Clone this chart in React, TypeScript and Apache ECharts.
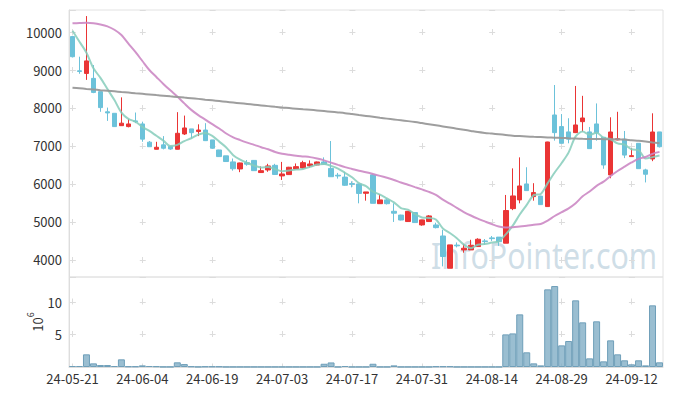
import React, { useEffect, useRef } from "react";
import * as echarts from "echarts";

const dates = [
  "24-05-21","24-05-22","24-05-23","24-05-24","24-05-27","24-05-28","24-05-29","24-05-30","24-05-31","24-06-03",
  "24-06-04","24-06-05","24-06-07","24-06-10","24-06-11","24-06-12","24-06-13","24-06-14","24-06-17","24-06-18",
  "24-06-19","24-06-20","24-06-21","24-06-24","24-06-25","24-06-26","24-06-27","24-06-28","24-07-01","24-07-02",
  "24-07-03","24-07-04","24-07-05","24-07-08","24-07-09","24-07-10","24-07-11","24-07-12","24-07-15","24-07-16",
  "24-07-17","24-07-18","24-07-19","24-07-22","24-07-23","24-07-24","24-07-25","24-07-26","24-07-29","24-07-30",
  "24-07-31","24-08-01","24-08-02","24-08-05","24-08-06","24-08-07","24-08-08","24-08-09","24-08-12","24-08-13",
  "24-08-14","24-08-16","24-08-19","24-08-20","24-08-21","24-08-22","24-08-23","24-08-26","24-08-27","24-08-28",
  "24-08-29","24-08-30","24-09-02","24-09-03","24-09-04","24-09-05","24-09-06","24-09-09","24-09-10","24-09-11",
  "24-09-12","24-09-13","24-09-19","24-09-20","24-09-23",
];

// [open, close, low, high]
const ohlc = [
  [9880, 9350, 9330, 9900], [8980, 8960, 8900, 9350], [8910, 9240, 8740, 10420], [8780, 8410, 8390, 9130],
  [8430, 8010, 7900, 8430], [7900, 7870, 7660, 8010], [7860, 7510, 7500, 7860], [7534, 7600, 7530, 8280],
  [7510, 7580, 7490, 7710], [7660, 7640, 7600, 7880], [7580, 7180, 7110, 7640], [7100, 6980, 6980, 7130],
  [6913, 6966, 6910, 7110], [7030, 6940, 6910, 7260], [6990, 6920, 6900, 6990], [6913, 7334, 6910, 7890],
  [7316, 7474, 7290, 7800], [7450, 7350, 7200, 7450], [7380, 7420, 7260, 7570], [7420, 7140, 7130, 7600],
  [7160, 6940, 6930, 7160], [6895, 6720, 6710, 6900], [6740, 6590, 6580, 6740], [6580, 6400, 6350, 6670],
  [6395, 6553, 6310, 6560], [6560, 6520, 6480, 6630], [6620, 6350, 6350, 6630], [6300, 6350, 6290, 6460],
  [6368, 6474, 6320, 6530], [6490, 6250, 6240, 6530], [6211, 6263, 6105, 6580], [6246, 6440, 6240, 6450],
  [6395, 6456, 6390, 6540], [6421, 6561, 6400, 6610], [6474, 6526, 6430, 6620], [6500, 6579, 6490, 6590],
  [6580, 6520, 6510, 6700], [6410, 6190, 6190, 7130], [6230, 6210, 6140, 6290], [6180, 5965, 5950, 6320],
  [6010, 5990, 5910, 6070], [6000, 5750, 5490, 6000], [5754, 5790, 5560, 5790], [6240, 5490, 5490, 6270],
  [5480, 5580, 5480, 5730], [5580, 5480, 5460, 5620], [5280, 5230, 5000, 5490], [5180, 5050, 5040, 5190],
  [5010, 5280, 5000, 5290], [5246, 4983, 4980, 5250], [4921, 5053, 4900, 5060], [5010, 5158, 5000, 5180],
  [4920, 4850, 4830, 4980], [4630, 4090, 3830, 4790], [3780, 4395, 3780, 4395], [4390, 4370, 4330, 4460],
  [4263, 4307, 4190, 4420], [4263, 4386, 4260, 4530], [4351, 4544, 4340, 4570], [4500, 4482, 4400, 4550],
  [4580, 4560, 4500, 4630], [4600, 4480, 4370, 4600], [4440, 5300, 4440, 5710], [5350, 5684, 5310, 6410],
  [5580, 5947, 5490, 6700], [6000, 5825, 5820, 6440], [5667, 5772, 5560, 6020], [5680, 5456, 5450, 5690],
  [5404, 7105, 5400, 7110], [7816, 7351, 7140, 8605], [7510, 7070, 7070, 7840], [7370, 7180, 7070, 7730],
  [7351, 7553, 7340, 8580], [7640, 7737, 7380, 8320], [7370, 6930, 6930, 7500], [7580, 7350, 7140, 8120],
  [7230, 6500, 6400, 7230], [6237, 7368, 6150, 7755], [7160, 7190, 7150, 7900], [7180, 6760, 6680, 7395],
  [6720, 6745, 6710, 6940], [7070, 6403, 6400, 7070], [6370, 6255, 6040, 6400], [6658, 7368, 6600, 7860],
  [7370, 6980, 6960, 7370],
];

// volume, millions of shares
const volumes = [
  0.15, 0.15, 1.95, 0.56, 0.3, 0.3, 0.15, 1.18, 0.1, 0.1,
  0.25, 0.15, 0.12, 0.03, 0.03, 0.72, 0.45, 0.1, 0.03, 0.08,
  0.08, 0.08, 0.02, 0.02, 0.02, 0.02, 0.02, 0.02, 0.02, 0.02,
  0.02, 0.02, 0.02, 0.02, 0.02, 0.02, 0.5, 0.7, 0.02, 0.15,
  0.02, 0.02, 0.02, 0.5, 0.02, 0.02, 0.25, 0.02, 0.02, 0.02,
  0.02, 0.02, 0.1, 0.1, 0.1, 0.02, 0.02, 0.02, 0.02, 0.02,
  0.02, 0.02, 5.02, 5.17, 8.1, 2.26, 0.56, 0.25, 11.95, 12.46,
  3.33, 4.0, 10.26, 6.87, 1.33, 7.03, 0.87, 4.1, 1.95, 1.03,
  0.41, 1.03, 0.25, 9.49, 0.72,
];

const ma5 = [
  10034, 9745, 9456, 9044, 8794, 8498, 8208, 7880, 7714, 7640,
  7502, 7396, 7269, 7141, 6997, 7028, 7127, 7204, 7300, 7344,
  7265, 7114, 6962, 6758, 6641, 6557, 6483, 6435, 6449, 6389,
  6337, 6355, 6377, 6394, 6449, 6512, 6528, 6475, 6405, 6293,
  6175, 6021, 5941, 5797, 5720, 5618, 5514, 5366, 5324, 5205,
  5119, 5105, 5065, 4827, 4709, 4573, 4402, 4310, 4400, 4418,
  4456, 4490, 4673, 4901, 5194, 5447, 5706, 5737, 6021, 6302,
  6551, 6832, 7252, 7378, 7294, 7350, 7214, 7177, 7068, 7034,
  6913, 6893, 6671, 6706, 6750,
];

const ma20 = [
  10229, 10238, 10245, 10232, 10200, 10150, 10060, 9921, 9694, 9475,
  9237, 9000, 8817, 8634, 8464, 8302, 8122, 7950, 7811, 7694,
  7573, 7461, 7329, 7228, 7155, 7088, 7030, 6967, 6912, 6843,
  6797, 6770, 6744, 6725, 6706, 6668, 6620, 6562, 6502, 6443,
  6395, 6347, 6307, 6261, 6213, 6161, 6105, 6040, 5980, 5917,
  5856, 5792, 5712, 5588, 5482, 5371, 5261, 5170, 5087, 5013,
  4941, 4878, 4853, 4863, 4881, 4899, 4926, 4946, 5037, 5156,
  5257, 5358, 5493, 5675, 5802, 5951, 6061, 6210, 6342, 6456,
  6565, 6661, 6709, 6793, 6845,
];

const ma120 = [
  8535, 8520, 8503, 8487, 8470, 8454, 8438, 8421, 8405, 8388,
  8372, 8356, 8339, 8323, 8306, 8290, 8273, 8257, 8240, 8220,
  8201, 8182, 8163, 8144, 8125, 8106, 8087, 8068, 8049, 8030,
  8012, 7997, 7982, 7967, 7953, 7937, 7919, 7901, 7883, 7864,
  7840, 7816, 7792, 7767, 7742, 7720, 7698, 7676, 7654, 7630,
  7602, 7573, 7544, 7515, 7486, 7456, 7426, 7396, 7366, 7344,
  7326, 7308, 7290, 7272, 7261, 7250, 7240, 7233, 7225, 7218,
  7211, 7203, 7196, 7189, 7184, 7182, 7180, 7179, 7177, 7168,
  7150, 7135, 7115, 7092, 7070,
];

const watermarkText = "InfoPointer.com";
const volumeUnit = "{b|10}{s|6}";

export default function App() {
  const ref = useRef<HTMLDivElement>(null);
  useEffect(() => {
    const chart = echarts.init(ref.current!, null, { renderer: "svg" });
    const font = "'Noto Sans CJK KR', 'Noto Sans', sans-serif";
    const red = "#ea3535";
    const blue = "#6cc2da";
    const gridLine = "#dcdcdc";
    chart.setOption({
      animation: false,
      backgroundColor: "#ffffff",
      textStyle: { fontFamily: font },
      graphic: [
        {
          type: "text",
          x: 431,
          y: 236,
          scaleX: 0.82,
          z: 0,
          silent: true,
          style: {
            text: watermarkText,
            fontSize: 37,
            fontFamily: "'Noto Sans', sans-serif",
            fill: "rgba(175,200,215,0.6)",
            textAlign: "left",
            textVerticalAlign: "top",
          },
        },
        {
          type: "text",
          x: 35,
          y: 322,
          rotation: Math.PI / 2,
          silent: true,
          style: {
            text: volumeUnit,
            align: "center",
            verticalAlign: "middle",
            rich: {
              b: { fontSize: 13, fill: "#333", fontFamily: font, lineHeight: 18, verticalAlign: "bottom" },
              s: { fontSize: 9, fill: "#333", fontFamily: font, lineHeight: 18, verticalAlign: "top" },
            },
          },
        },
      ],
      grid: [
        { left: 69, right: 10, top: 10, height: 267, show: true, borderColor: "#e2e2e2", borderWidth: 1 },
        { left: 69, right: 10, top: 277, height: 90, show: true, borderColor: "#e2e2e2", borderWidth: 1 },
      ],
      xAxis: [
        {
          type: "category",
          gridIndex: 0,
          data: dates,
          boundaryGap: true,
          axisLine: { show: false },
          axisTick: { show: false },
          axisLabel: { show: false, interval: 9 },
          splitLine: {
            show: true,
            interval: 9,
            alignWithLabel: true,
            lineStyle: { color: gridLine, width: 1, type: [6, 32], dashOffset: 19 },
          },
        },
        {
          type: "category",
          gridIndex: 1,
          data: dates,
          boundaryGap: true,
          axisLine: { show: true, lineStyle: { color: "#dddddd" } },
          axisTick: { show: false },
          axisLabel: { interval: 9, color: "#333", fontSize: 13, fontFamily: font, margin: 5 },
          splitLine: {
            show: true,
            interval: 9,
            alignWithLabel: true,
            lineStyle: { color: gridLine, width: 1, type: [6, 26.5], dashOffset: 10.5 },
          },
        },
      ],
      yAxis: [
        {
          type: "value",
          gridIndex: 0,
          min: 3550,
          max: 10580,
          splitNumber: 7,
          axisLine: { show: true, lineStyle: { color: "#dddddd" } },
          axisTick: { show: false },
          axisLabel: {
            color: "#333",
            fontSize: 13,
            fontFamily: font,
            margin: 7,
            showMinLabel: false,
            showMaxLabel: false,
            formatter: (v: number) => String(v),
          },
          splitLine: { show: true, lineStyle: { color: gridLine, width: 1, type: [6, 63.88], dashOffset: 69.39 } },
        },
        {
          type: "value",
          gridIndex: 1,
          min: 0,
          max: 13.85,
          splitNumber: 3,
          axisLine: { show: true, lineStyle: { color: "#dddddd" } },
          axisTick: { show: false },
          axisLabel: {
            color: "#333",
            fontSize: 13,
            fontFamily: font,
            margin: 7,
            showMinLabel: false,
            showMaxLabel: false,
            formatter: (v: number) => String(v),
          },
          splitLine: { show: true, lineStyle: { color: gridLine, width: 1, type: [6, 63.88], dashOffset: 69.39 } },
        },
      ],
      series: [
        {
          type: "candlestick",
          xAxisIndex: 0,
          yAxisIndex: 0,
          data: ohlc,
          barWidth: 5,
          itemStyle: { color: red, color0: blue, borderColor: red, borderColor0: blue, borderWidth: 1 },
          z: 3,
        },
        {
          type: "line",
          xAxisIndex: 0,
          yAxisIndex: 0,
          data: ma5,
          symbol: "none",
          smooth: 0.3,
          lineStyle: { color: "#86ccbb", width: 2, opacity: 0.85 },
          z: 4,
        },
        {
          type: "line",
          xAxisIndex: 0,
          yAxisIndex: 0,
          data: ma20,
          symbol: "none",
          smooth: 0.3,
          lineStyle: { color: "#cc88c4", width: 2, opacity: 0.9 },
          z: 4,
        },
        {
          type: "line",
          xAxisIndex: 0,
          yAxisIndex: 0,
          data: ma120,
          symbol: "none",
          smooth: 0.3,
          lineStyle: { color: "#999999", width: 2, opacity: 0.95 },
          z: 4,
        },
        {
          type: "bar",
          xAxisIndex: 1,
          yAxisIndex: 1,
          data: volumes,
          barCategoryGap: "0%",
          itemStyle: { color: "rgba(125,172,196,0.78)", borderColor: "#6f9fb9", borderWidth: 1 },
        },
      ],
    });
    return () => chart.dispose();
  }, []);
  return (
    <div
      ref={ref}
      style={{ position: "absolute", left: 0, top: 0, width: 673, height: 396 }}
    />
  );
}
